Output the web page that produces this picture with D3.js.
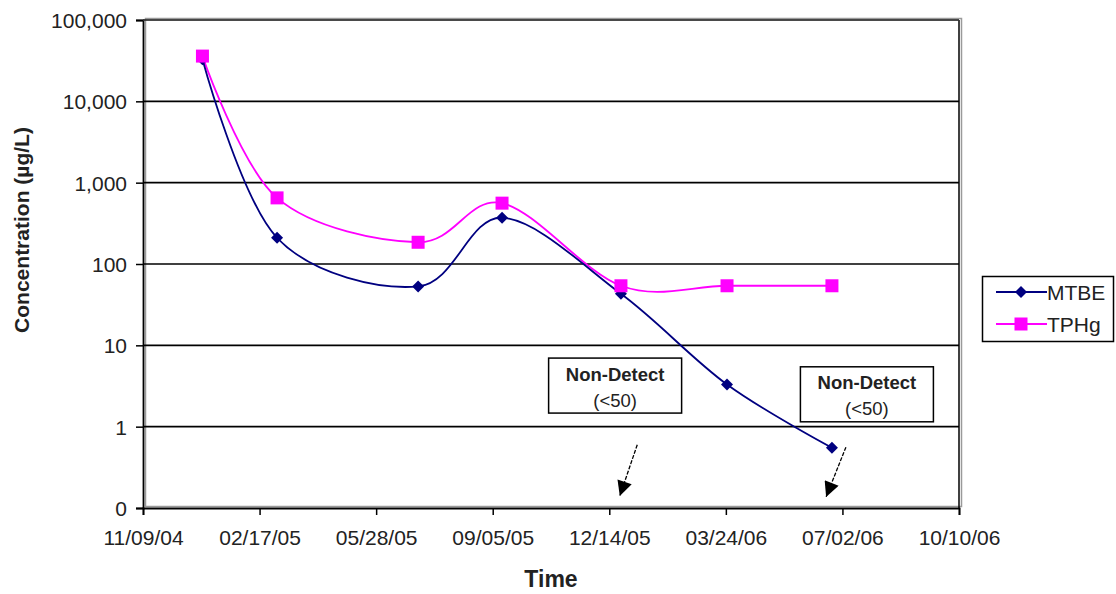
<!DOCTYPE html>
<html><head><meta charset="utf-8">
<script src="https://cdn.jsdelivr.net/npm/d3@7"></script>
<style>
html,body{margin:0;padding:0;background:#fff;}
svg{display:block;font-family:"Liberation Sans",Arial,sans-serif;}
</style></head>
<body>
<svg id="chart" width="1116" height="594"></svg>
<script>
// ---- data ----
const sampleDates = ["2004-12-30","2005-03-04","2005-07-03","2005-09-13","2005-12-24","2006-03-25","2006-06-23"];
const mtbe = [33000, 210, 53, 370, 43, 3.3, 0.55];
const tphg = [36000, 650, 185, 560, 54, 54, 54];
const xTickDates = ["2004-11-09","2005-02-17","2005-05-28","2005-09-05","2005-12-14","2006-03-24","2006-07-02","2006-10-10"];
const yTickValues = [0.1, 1, 10, 100, 1000, 10000, 100000];
const yTickLabels = ["0","1","10","100","1,000","10,000","100,000"];
const seriesNames = ["MTBE","TPHg"];
// annotations (anchored by date/value)
const noteDates = ["2005-12-19","2006-07-23"];
const noteValues = [3.2, 2.5];
const arrowFromDates = ["2006-01-07","2006-07-05"];
const arrowFromValues = [0.6, 0.56];
const arrowToDates = ["2005-12-23","2006-06-18"];
const arrowToValues = [0.14, 0.137];

const parse = d3.utcParse("%Y-%m-%d");
const svg = d3.select("#chart");
const L = 143, R = 959, T = 20, B = 508;
const FONT = "Liberation Sans, Arial, sans-serif";

const x = d3.scaleUtc().domain([parse(xTickDates[0]), parse(xTickDates[xTickDates.length-1])]).range([L, R]);
const y = d3.scaleLog().domain([0.1, 100000]).range([B, T]);

// defs
const defs = svg.append("defs");
defs.append("marker").attr("id","ah").attr("viewBox","0 0 10 10").attr("refX",10).attr("refY",5)
  .attr("markerWidth",18).attr("markerHeight",15).attr("markerUnits","userSpaceOnUse").attr("orient","auto")
  .append("path").attr("d","M0,0 L10,5 L0,10 Z").attr("fill","#000");

// plot area border (gray)
svg.append("rect").attr("x",L+2.5).attr("y",T-1.5).attr("width",R-L).attr("height",B-T)
  .attr("fill","none").attr("stroke","#9a9a9a").attr("stroke-width",1.5);

// gridlines
svg.append("g").selectAll("line").data(yTickValues.slice(1)).join("line")
  .attr("x1",L).attr("x2",R).attr("y1",d=>y(d)).attr("y2",d=>y(d))
  .attr("stroke","#000").attr("stroke-width",1.6);

// y axis
const yAxis = d3.axisLeft(y).tickValues(yTickValues).tickFormat((d,i)=>yTickLabels[i]).tickSize(7).tickPadding(9);
const gy = svg.append("g").attr("transform",`translate(${L},0)`).call(yAxis);
gy.select(".domain").attr("stroke","#000").attr("stroke-width",1.8);
gy.selectAll(".tick line").attr("stroke","#000").attr("stroke-width",1.5);
gy.selectAll(".tick text").attr("font-size",21).attr("fill","#222").attr("font-family",FONT).attr("dy","0.36em");

// x axis
const xAxis = d3.axisBottom(x).tickValues(xTickDates.map(parse)).tickFormat(d3.utcFormat("%m/%d/%y")).tickSize(7).tickPadding(15);
const gx = svg.append("g").attr("transform",`translate(0,${B})`).call(xAxis);
gx.select(".domain").attr("stroke","#000").attr("stroke-width",1.8);
gx.selectAll(".tick line").attr("stroke","#000").attr("stroke-width",1.5);
gx.selectAll(".tick text").attr("font-size",21).attr("fill","#222").attr("font-family",FONT);

// right / top border
svg.append("line").attr("x1",R).attr("x2",R).attr("y1",T).attr("y2",B).attr("stroke","#000").attr("stroke-width",1.5);
svg.append("line").attr("x1",L).attr("x2",R).attr("y1",T).attr("y2",T).attr("stroke","#555").attr("stroke-width",1.2);

// titles
svg.append("text").attr("transform",`translate(29,230) rotate(-90)`).attr("text-anchor","middle")
  .attr("font-size",21).attr("font-weight","bold").attr("fill","#222").text("Concentration (µg/L)");
svg.append("text").attr("x",551).attr("y",587).attr("text-anchor","middle")
  .attr("font-size",23).attr("font-weight","bold").attr("fill","#222").text("Time");

// lines
const line = d3.line().curve(d3.curveCardinal.tension(0)).x(d=>x(d[0])).y(d=>y(d[1]));
const dts = sampleDates.map(parse);
const series = [
  {name:seriesNames[0], vals:mtbe, color:"#000080"},
  {name:seriesNames[1], vals:tphg, color:"#FF00FF"}
];
svg.append("path").datum(dts.map((d,i)=>[d,tphg[i]])).attr("d",line).attr("fill","none").attr("stroke","#FF00FF").attr("stroke-width",1.8);
svg.append("path").datum(dts.map((d,i)=>[d,mtbe[i]])).attr("d",line).attr("fill","none").attr("stroke","#000080").attr("stroke-width",1.8);
// markers
const diamond = d3.symbol().type(d3.symbolSquare).size(72);
svg.append("g").selectAll("path").data(dts.map((d,i)=>[d,mtbe[i]])).join("path")
  .attr("d",diamond).attr("transform",d=>`translate(${x(d[0])},${y(d[1])}) rotate(45)`).attr("fill","#000080");
svg.append("g").selectAll("rect").data(dts.map((d,i)=>[d,tphg[i]])).join("rect")
  .attr("x",d=>x(d[0])-6.5).attr("y",d=>y(d[1])-6.5).attr("width",13).attr("height",13).attr("fill","#FF00FF");

// annotations
noteDates.forEach((nd,i)=>{
  const cx = x(parse(nd)), cy = y(noteValues[i]);
  const g = svg.append("g");
  g.append("rect").attr("x",cx-66.5).attr("y",cy-27.5).attr("width",133).attr("height",55)
    .attr("fill","#fff").attr("stroke","#000").attr("stroke-width",1.5);
  g.append("text").attr("x",cx).attr("y",cy-5).attr("text-anchor","middle").attr("font-size",18.5)
    .attr("font-weight","bold").attr("fill","#222").text("Non-Detect");
  g.append("text").attr("x",cx).attr("y",cy+21).attr("text-anchor","middle").attr("font-size",18.5)
    .attr("fill","#222").text("(<50)");
  svg.append("line").attr("x1",x(parse(arrowFromDates[i]))).attr("y1",y(arrowFromValues[i]))
    .attr("x2",x(parse(arrowToDates[i]))).attr("y2",y(arrowToValues[i]))
    .attr("stroke","#000").attr("stroke-width",1.3).attr("stroke-dasharray","4,1.5").attr("marker-end","url(#ah)");
});

// legend
const lg = svg.append("g");
lg.append("rect").attr("x",982.5).attr("y",276.5).attr("width",131).attr("height",65)
  .attr("fill","#fff").attr("stroke","#000").attr("stroke-width",1.5);
series.forEach((s,i)=>{
  const ly = 292 + i*32;
  lg.append("line").attr("x1",996).attr("x2",1047).attr("y1",ly).attr("y2",ly).attr("stroke",s.color).attr("stroke-width",1.8);
  if(i===0) lg.append("path").attr("d",diamond).attr("transform",`translate(1021,${ly}) rotate(45)`).attr("fill",s.color);
  else lg.append("rect").attr("x",1021-6.5).attr("y",ly-6.5).attr("width",13).attr("height",13).attr("fill",s.color);
  lg.append("text").attr("x",1047).attr("y",ly).attr("dy","0.36em").attr("font-size",21).attr("fill","#222").text(s.name);
});
</script>
</body></html>
